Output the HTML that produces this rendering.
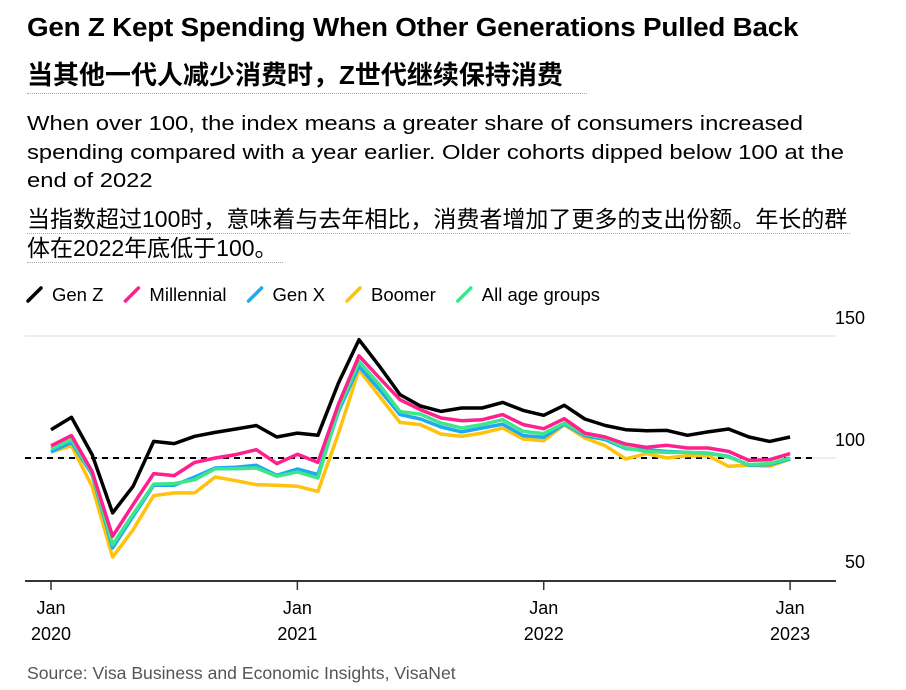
<!DOCTYPE html>
<html><head><meta charset="utf-8"><style>
body{margin:0;width:906px;height:690px;background:#fff;position:relative;overflow:hidden;font-family:"Liberation Sans","Noto Sans CJK SC",sans-serif;color:#000}
.t{position:absolute;left:27px;white-space:nowrap;transform-origin:0 0}
</style></head><body>
<div class="t" style="top:14px;font-size:25.5px;font-weight:bold;letter-spacing:-0.2px;transform:scaleX(1.09)">Gen Z Kept Spending When Other Generations Pulled Back</div>
<div class="t" style="top:60px;font-size:26px;line-height:30px;font-weight:bold;border-bottom:1px dotted #aaa;padding-bottom:3px;width:560px">当其他一代人减少消费时，Z世代继续保持消费</div>
<div class="t" style="top:110px;font-size:20.5px;line-height:28.5px;transform:scaleX(1.16)">When over 100, the index means a greater share of consumers increased<br>spending compared with a year earlier. Older cohorts dipped below 100 at the<br>end of 2022</div>
<div class="t" style="top:205px;font-size:23px;line-height:29px">
<div style="border-bottom:1px dotted #aaa;width:823px;height:28px">当指数超过100时，意味着与去年相比，消费者增加了更多的支出份额。年长的群</div>
<div style="border-bottom:1px dotted #aaa;width:256px;height:28px">体在2022年底低于100。</div></div>
<svg width="906" height="690" style="position:absolute;left:0;top:0" font-family="Liberation Sans, sans-serif">
<g id="legend"></g>
<g id="grid"></g><g id="series"></g><g id="axes"></g>
<text x="27" y="679" font-size="17.6" fill="#555">Source: Visa Business and Economic Insights, VisaNet</text>
</svg>
<script>
const seriesNames=["Boomer","Gen X","All age groups","Millennial","Gen Z"];
const genZ=[111.6,116.7,101.4,77.5,88.4,106.8,105.9,108.9,110.5,111.9,113.3,108.6,110.2,109.3,130.7,148.5,137.6,126,121.3,119.1,120.5,120.5,122.8,119.5,117.5,121.6,116,113.3,111.6,111.2,111.3,109.3,110.7,111.9,108.6,106.8,108.6];
const millennial=[105,109.2,94.5,67.9,80.9,93.6,92.8,98.2,100,101.4,103.4,97.7,101.5,98.2,122,141.9,132.8,123.9,119.8,116.4,115.3,115.7,117.8,113.7,112,116.1,110.2,108.6,105.7,104.4,105.2,104.1,104.1,102.7,99,99.3,101.8];
const genX=[102.5,106.4,93.2,63.1,76.1,88.8,88.8,92.2,95.9,96.2,97,92.9,95.5,93.2,119,137.6,128,117.8,116,112.7,110.7,112.3,113.9,109.2,108.5,113.9,109.2,107.5,103.8,103.4,102.7,102.3,102,100.7,97,97.3,99.6];
const allGroups=[103.7,107.5,93.9,64.5,77,89.3,89.5,91.1,95.6,95.6,95.9,92.5,94.3,91.8,120,139.6,130,119,118,114.3,112.3,113.7,115.7,110.9,110,114.3,109.8,108.2,104.1,102.7,102.3,102.3,102,100.4,97.3,97.7,100];
const boomer=[102.5,105,88.4,59.4,70.6,84.6,85.7,85.7,92.2,90.7,89.1,88.8,88.4,86.3,110,136.2,125.3,114.6,113.7,109.8,108.9,110.2,112.3,107.8,107.1,113.7,108.2,105,99.6,101.8,100,101,101,96.6,97,96.6,99.6];
const yTicks=[50,100,150];
const xTickMonths=[0,12,24,36];
const xTickLabels=[["Jan","2020"],["Jan","2021"],["Jan","2022"],["Jan","2023"]];
const legendNames=["Gen Z","Millennial","Gen X","Boomer","All age groups"];
const NS="http://www.w3.org/2000/svg";
const X=m=>51+m*20.53;
const Y=v=>458-(v-100)*2.44;
const colors={"Gen Z":"#000","Millennial":"#ff1f8e","Gen X":"#1eaaf1","Boomer":"#ffc20e","All age groups":"#3ee68a"};
const dataMap={"Gen Z":genZ,"Millennial":millennial,"Gen X":genX,"Boomer":boomer,"All age groups":allGroups};
function mk(tag,attrs,parent){const e=document.createElementNS(NS,tag);for(const k in attrs)e.setAttribute(k,attrs[k]);parent.appendChild(e);return e;}
const grid=document.getElementById('grid'),axes=document.getElementById('axes'),ser=document.getElementById('series'),leg=document.getElementById('legend');
yTicks.forEach(v=>{
  if(v!==50){const l=mk('line',{x1:25,x2:836,y1:Y(v),y2:Y(v),stroke:'#ddd','stroke-width':1},grid);
  
  }
  const t=mk('text',{x:865,y:Y(v)-12,'font-size':18,'text-anchor':'end'},axes);t.textContent=v;
  
  
});
const ref=mk('line',{x1:25,x2:816,y1:Y(100),y2:Y(100),stroke:'#000','stroke-width':2,'stroke-dasharray':'6,5'},grid);


const ax=mk('line',{x1:25,x2:836,y1:581,y2:581,stroke:'#333','stroke-width':2},axes);


xTickMonths.forEach((m,i)=>{
  const tk=mk('line',{x1:X(m),x2:X(m),y1:581,y2:590,stroke:'#333','stroke-width':1.5},axes);
  
  
  xTickLabels[i].forEach((s,j)=>{const t=mk('text',{x:X(m),y:614+j*26,'font-size':18,'text-anchor':'middle'},axes);t.textContent=s;
  
  });
});
seriesNames.forEach(n=>{
  const d=dataMap[n].map((v,i)=>(i?'L':'M')+X(i).toFixed(1)+','+Y(v).toFixed(1)).join('');
  const p=mk('path',{d:d,fill:'none',stroke:colors[n],'stroke-width':3.5,'stroke-linejoin':'round'},ser);
  
  
});
let lx=27;
legendNames.forEach(n=>{
  const g=mk('g',{},leg);
  
  
  mk('line',{x1:lx+1,y1:301,x2:lx+14,y2:288,stroke:colors[n],'stroke-width':3.5,'stroke-linecap':'round'},g);
  const t=mk('text',{x:lx+25,y:301,'font-size':18.5},g);t.textContent=n;
  lx+=25+t.getComputedTextLength()+21;
});
</script>
</body></html>
